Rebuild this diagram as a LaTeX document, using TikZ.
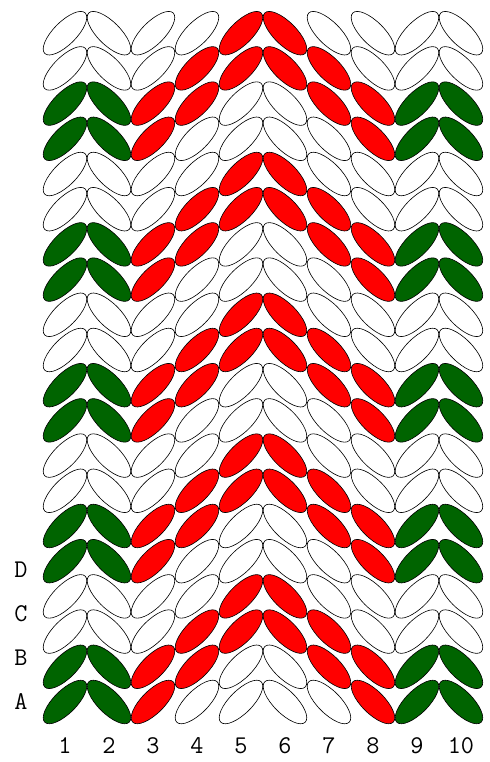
\documentclass[tikz,border=0pt]{standalone}
\usepackage{tikz}
\usetikzlibrary{positioning}
\usepackage{xcolor}
\definecolor{leaf}{RGB}{0,100,0}
\definecolor{berry}{RGB}{255,0,0}
\tikzset{stitchloop/.style={draw=black,line width=.4pt},chartlabel/.style={font=\fontsize{16.5}{19.8}\ttfamily,inner sep=1pt}}
% one row of colours per line of the repeat, left to right
\def\rowW{leaf,leaf,berry,white,white,white,white,berry,leaf,leaf}
\def\rowX{leaf,leaf,berry,berry,white,white,berry,berry,leaf,leaf}
\def\rowY{white,white,white,berry,berry,berry,berry,white,white,white}
\def\rowZ{white,white,white,white,berry,berry,white,white,white,white}

\begin{document}
\begin{tikzpicture}[x=1cm,y=1cm]
\useasboundingbox (-1.477,-1.364) rectangle (9.659,15.955);
\foreach \r in {1,...,20}{
  \pgfmathtruncatemacro{\m}{mod(\r-1,4)}
  \ifcase\m \let\pat\rowW \or \let\pat\rowX \or \let\pat\rowY \or \let\pat\rowZ \fi
  \foreach \col [count=\c] in \pat {
    \pgfmathsetmacro{\ang}{{45,-45,45,45,45,-45,-45,-45,45,-45}[\c-1]}
    \draw[stitchloop,fill=\col] (\c-1,{.8*(\r-1)}) ellipse [x radius=.65,y radius=.26,rotate=\ang];
  }
}
% row and column labels
\foreach \l [count=\i from 0] in {A,B,C,D}
  \node[chartlabel] (row\l) at (-1,\i) {\l};
\foreach \c in {1,...,10}
  \node[chartlabel] (col\c) at (\c-1,-1) {\c};
\end{tikzpicture}
\end{document}
